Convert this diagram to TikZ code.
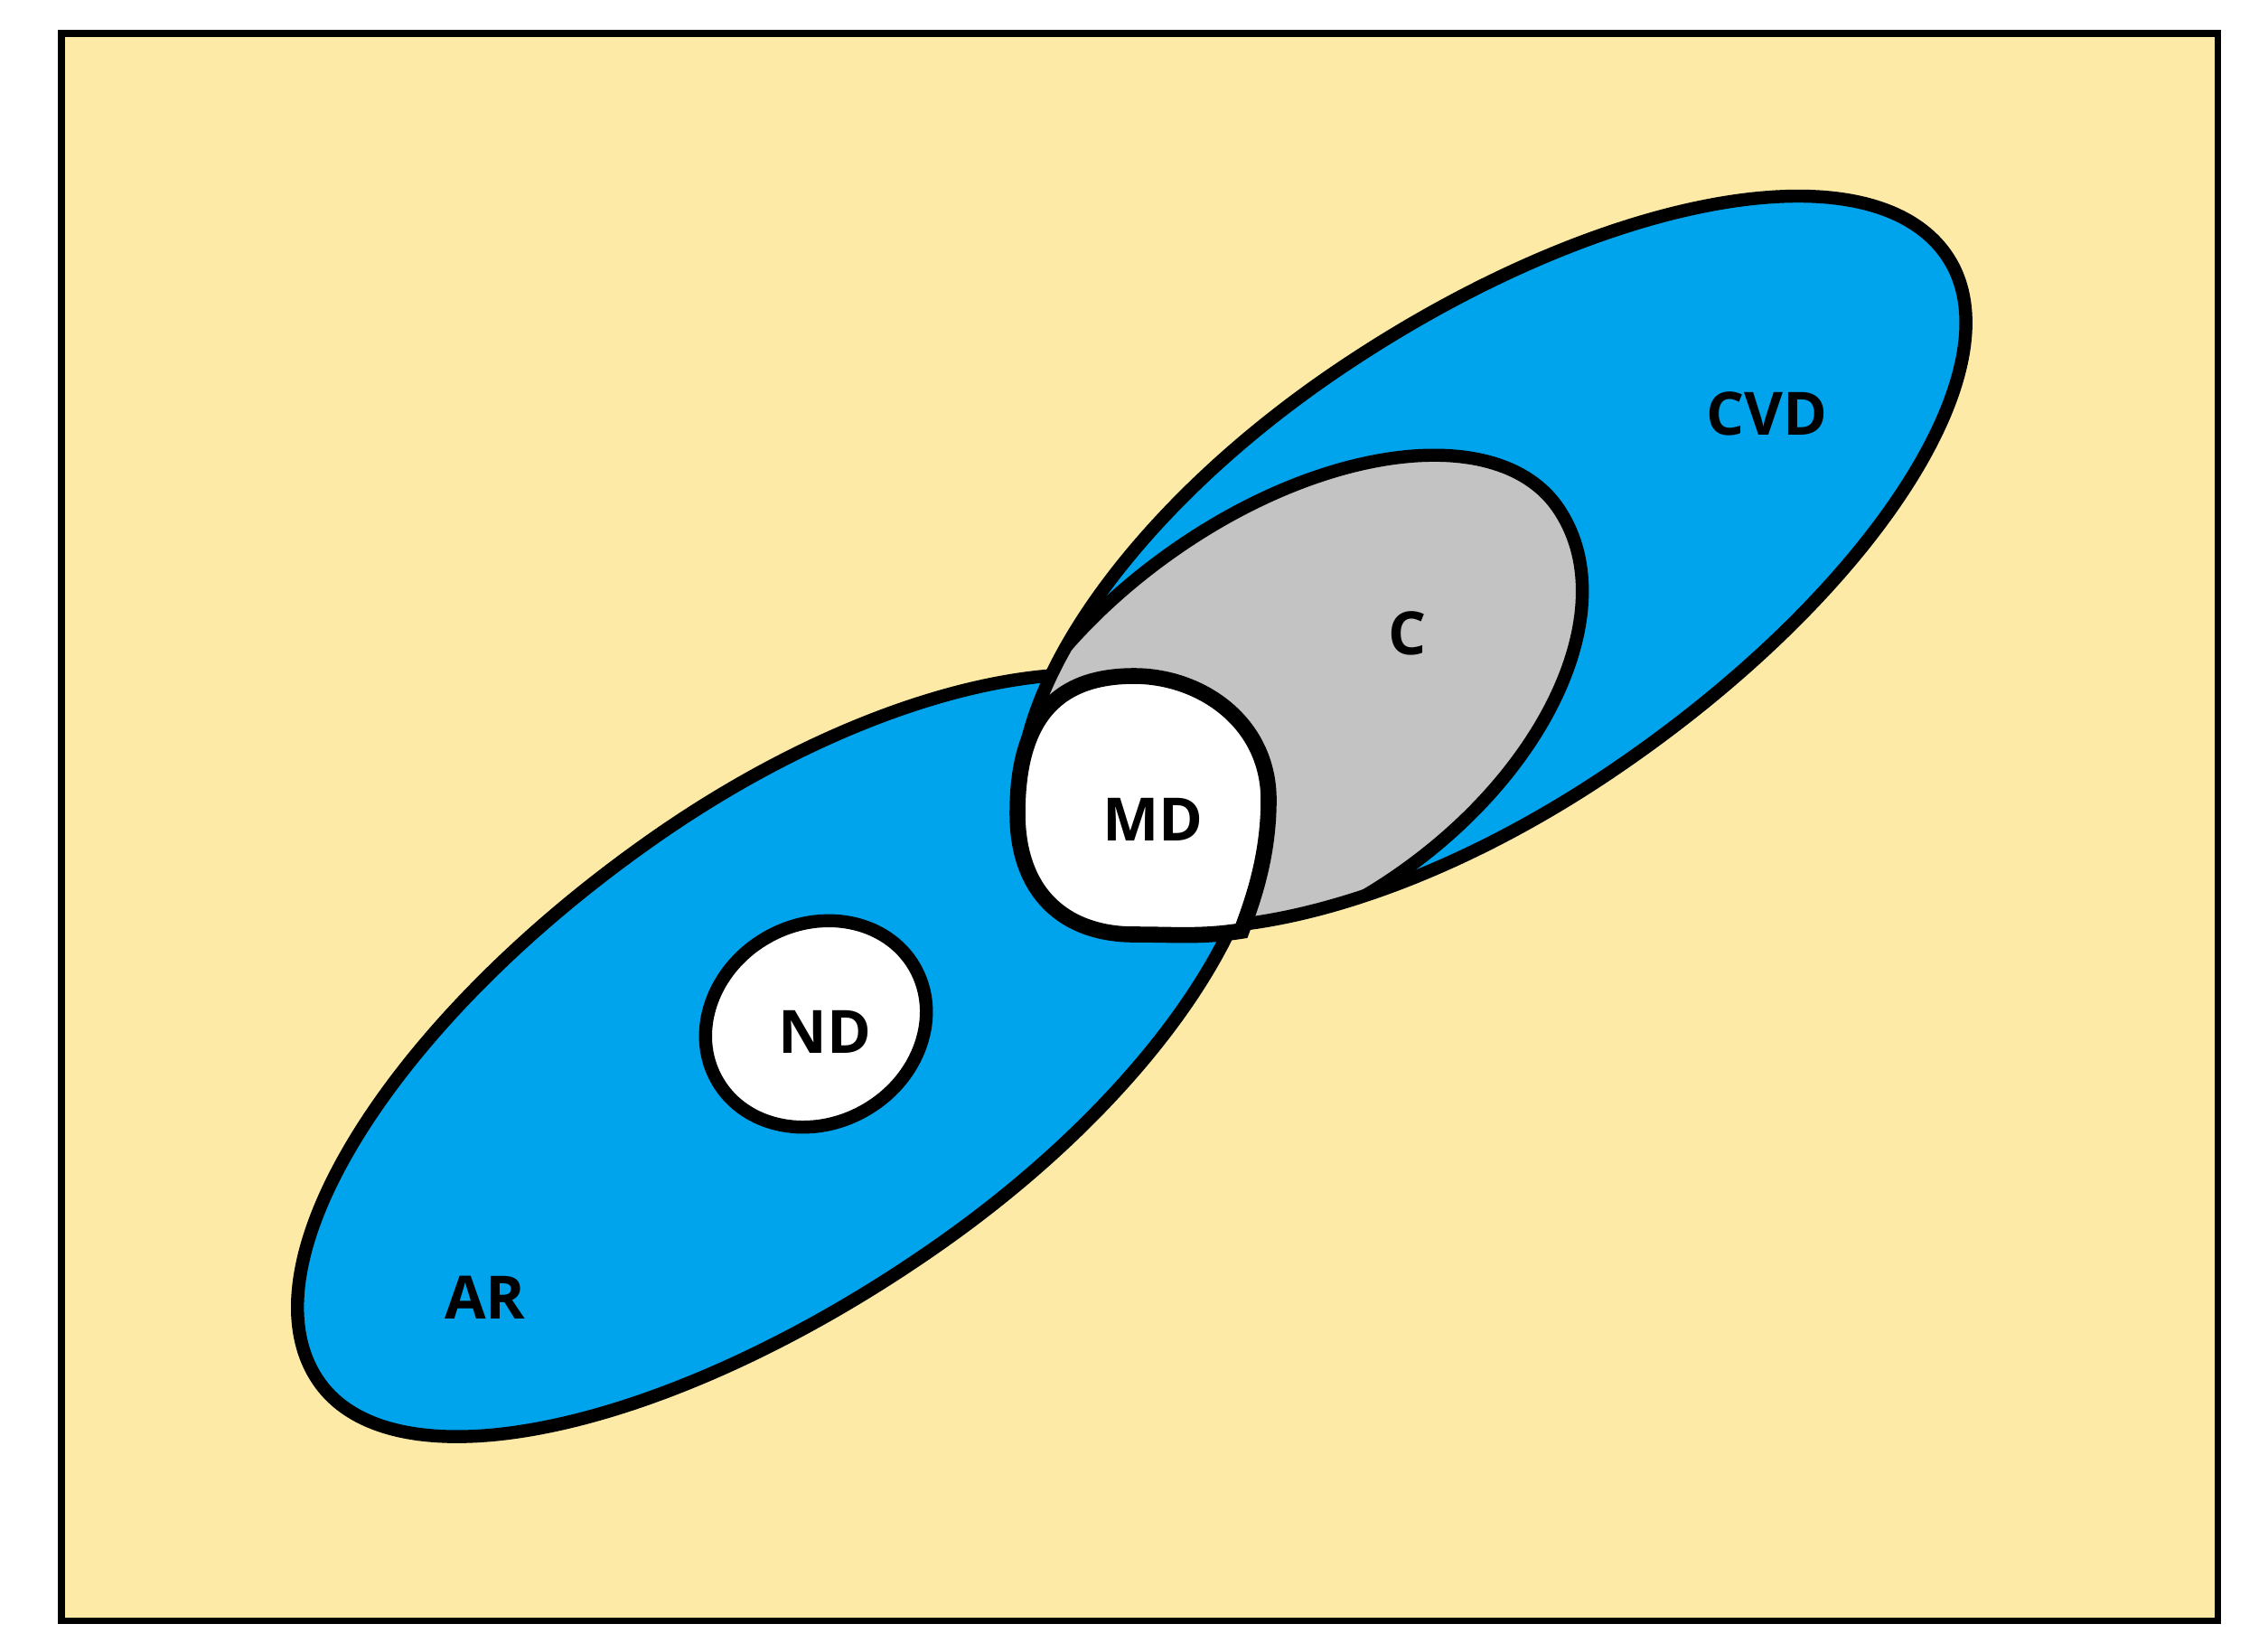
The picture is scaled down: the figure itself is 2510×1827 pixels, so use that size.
\documentclass[tikz,border=0pt]{standalone}
\usepackage{fontspec}
\newfontfamily\lblfont{Open Sans}
\definecolor{bgyellow}{RGB}{252,234,166}
\definecolor{paintblue}{RGB}{0,164,236}
\definecolor{paintgray}{RGB}{195,195,195}
% egg-shaped closed outlines: four quarter-ellipse arcs in a rotated local frame
\newcommand\shapeAR[1]{\path[#1,shift={(884,1157.5)},x=0.01cm,y=0.01cm,rotate=35]
  (595,0) arc[start angle=0,end angle=90,x radius=595,y radius=280.5]
  arc[start angle=90,end angle=180,x radius=648,y radius=280.5]
  arc[start angle=180,end angle=270,x radius=648,y radius=269]
  arc[start angle=270,end angle=360,x radius=595,y radius=269] -- cycle;}
\newcommand\shapeCVD[1]{\path[#1,shift={(1634.2,634.6)},x=0.01cm,y=0.01cm,rotate=34]
  (628,0) arc[start angle=0,end angle=90,x radius=628,y radius=272.5]
  arc[start angle=90,end angle=180,x radius=580,y radius=272.5]
  arc[start angle=180,end angle=270,x radius=580,y radius=265]
  arc[start angle=270,end angle=360,x radius=628,y radius=265] -- cycle;}
\newcommand\shapeC[1]{\path[#1,shift={(1416.3,776.1)},x=0.01cm,y=0.01cm,rotate=35]
  (375,0) arc[start angle=0,end angle=90,x radius=375,y radius=204]
  arc[start angle=90,end angle=180,x radius=380,y radius=204]
  arc[start angle=180,end angle=270,x radius=380,y radius=232]
  arc[start angle=270,end angle=360,x radius=375,y radius=232] -- cycle;}
\newcommand\shapeMD[1]{\path[#1] (1126,900) .. controls (1126,800) and (1165,748) .. (1255,748)
  .. controls (1330,748) and (1404,800) .. (1404,885)
  .. controls (1404,950) and (1385,1000) .. (1374,1030)
  .. controls (1330,1037) and (1300,1034) .. (1255,1034)
  .. controls (1180,1034) and (1126,990) .. (1126,900) -- cycle;}
\begin{document}
\begin{tikzpicture}[x=0.01cm,y=-0.01cm,
  outl/.style={draw=black,line width=4.1pt,line join=round},
  mdline/.style={draw=black,line width=5pt,line join=miter},
  lbl/.style={font=\lblfont\bfseries\fontsize{18.8}{20}\selectfont,inner sep=0pt,text=black}]
\useasboundingbox (0,0) rectangle (2510,1827);
\fill[white] (0,0) rectangle (2510,1827);
\path[fill=bgyellow] (68,37) rectangle (2454,1793);
% AR
\shapeAR{fill=paintblue,outl}
% CVD fill
\shapeCVD{fill=paintblue}
% C, clipped to CVD
\begin{scope}
  \shapeCVD{clip}
  \shapeC{fill=paintgray,outl}
\end{scope}
% CVD outline
\shapeCVD{outl}
% MD
\shapeMD{fill=white,mdline}
% ND
\path[fill=white,outl,rotate around={30:(903,1133)}] (903,1133) ellipse [x radius=126, y radius=110];
% frame
\path[draw=black,line width=2pt] (68,37) rectangle (2454,1793);
% labels
\node[lbl] (cvd) at (1955,458) {CVD};
\node[lbl] (c) at (1558,701) {C};
\node[lbl] (md) at (1276,907) {MD};
\node[lbl] (nd) at (913,1142) {ND};
\node[lbl] (ar) at (537,1436) {AR};
\end{tikzpicture}
\end{document}
